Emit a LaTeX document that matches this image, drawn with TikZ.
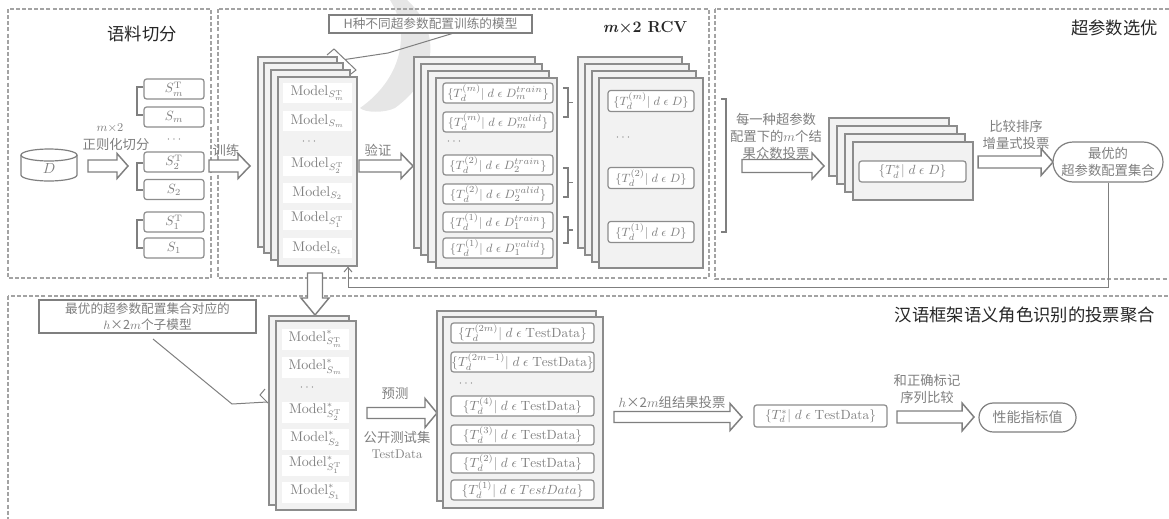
\documentclass[tikz,border=0pt]{standalone}
\usepackage{fontspec}
\newfontfamily\cjk{Noto Sans CJK SC}
\usetikzlibrary{arrows.meta}
\definecolor{txt}{HTML}{7F7F7F}
\definecolor{dark}{HTML}{262626}
\definecolor{edge}{HTML}{8C8C8C}
\definecolor{lay}{HTML}{F2F2F2}
\definecolor{dsh}{HTML}{A3A3A3}
\definecolor{wm}{HTML}{E6E6E6}
\def\pxu{0.75pt}
\newcommand\barr[6]{\draw[barrow] (#1,#3-#4) -- (#2-#6,#3-#4) -- (#2-#6,#3-#5) -- (#2,#3) -- (#2-#6,#3+#5) -- (#2-#6,#3+#4) -- (#1,#3+#4) -- cycle;}
\newcommand\lay[5]{\node[layer, minimum width={(#4-#2)*\pxu}, minimum height={(#5-#3)*\pxu}] (#1) at ({(#2+#4)/2},{(#3+#5)/2}) {};}
\newcommand\Tset[2]{$\{T_d^{(#1)}|\;d\;\epsilon\;#2\}$}
\tikzset{
 frame/.style={draw=dsh, line width=1.1pt, dash pattern=on 3pt off 1.6pt},
 layer/.style={draw=edge, fill=lay, line width=0.9pt, inner sep=0pt},
 sbox/.style={draw=edge, fill=white, rounded corners=2pt, line width=0.9pt, inner sep=0pt, text=txt, font=\fontsize{10}{12}\selectfont},
 tbox/.style={sbox, font=\fontsize{9.5}{11}\selectfont},
 mentry/.style={fill=white, inner sep=0pt, text=txt, font=\fontsize{10.5}{12}\selectfont, minimum width=69*\pxu, minimum height=20*\pxu},
 lbl/.style={text=txt, font=\cjk\fontsize{10}{12.8}\selectfont, align=center, inner sep=0pt},
 title/.style={text=dark, font=\cjk\fontsize{13}{15}\selectfont, inner sep=0pt},
 barrow/.style={draw=txt, fill=white, line width=1.1pt, line join=miter},
 thinl/.style={draw=txt, line width=0.75pt},
 brk/.style={draw=txt, line width=0.9pt},
 dots/.style={text=txt, inner sep=0pt, font=\fontsize{9}{10}\selectfont},
 callout/.style={draw=txt, fill=white, line width=0.9pt, text=txt, font=\cjk\fontsize{9.5}{11.5}\selectfont, align=center, inner sep=0pt},
}
\begin{document}
\begin{tikzpicture}[x=0.75pt,y=-0.75pt]
\useasboundingbox (0,0) rectangle (1169,518);
% watermark swoosh
\fill[wm] (390,0) -- (407,0) .. controls (440,30) and (440,75) .. (395,108)
  .. controls (385,113) and (365,113) .. (360,108) .. controls (400,80) and (412,35) .. (390,0) -- cycle;
% frames
\draw[frame] (8,9) rectangle (211,278);
\draw[frame] (218,9) rectangle (709,278);
\draw[frame] (715,9) rectangle (1175,279);
\draw[frame] (8,296) rectangle (1175,540);
% titles
\node[title] (t1) at (142,34) {语料切分};
\node[text=dark, font=\fontsize{12}{14}\selectfont\bfseries, inner sep=0pt] (t2) at (645,27) {\textit{m}×2 RCV};
\node[title, anchor=east] (t3) at (1158,28) {超参数选优};
\node[title, anchor=east] (t4) at (1155,315) {汉语框架语义角色识别的投票聚合};

% ---------- section 1 ----------
\draw[brk, fill=white] (21,155) -- (21,175) arc[start angle=180, end angle=360, x radius=21pt, y radius=4.5pt] -- (77,155);
\draw[brk] (49,155) ellipse [x radius=21pt, y radius=4.5pt];
\node[text=txt, font=\fontsize{11}{13}\selectfont, inner sep=0pt] (D) at (49,169) {$D$};
\barr{88}{128}{166}{6}{12.5}{11}
\node[text=txt, font=\fontsize{9}{11}\selectfont, inner sep=0pt] (mx) at (110,128) {$m$×2};
\node[lbl] (split) at (116,144) {正则化切分};
\foreach \n/\y/\t in {s6/89/{S_m^{\mathrm{T}}}, s5/117/{S_m}, s4/162/{S_2^{\mathrm{T}}}, s3/189.5/{S_2}, s2/222/{S_1^{\mathrm{T}}}, s1/248/{S_1}}
  \node[sbox, minimum width=60*\pxu, minimum height=20*\pxu] (\n) at (174,\y) {$\t$};
\node[dots] (sd) at (174,140) {$\cdots$};
\foreach \a/\b in {87/115, 163/190, 220/248}
  \draw[brk] (143,\a) -- (137,\a) -- (137,\b) -- (143,\b);

% ---------- section 2 ----------
\barr{209}{250}{166}{6}{12.5}{12}
\node[lbl] (train) at (226,150) {训练};
\lay{ma}{258}{57}{337}{247}
\lay{mb}{264}{63}{343}{253}
\lay{mc}{271}{70}{350}{260}
\lay{mstack}{278}{77}{357}{266}
\foreach \n/\y/\t in {m6/93/{S_m^{\mathrm{T}}}, m5/121/{S_m}, m4/166/{S_2^{\mathrm{T}}}, m3/193/{S_2}, m2/220/{S_1^{\mathrm{T}}}, m1/248/{S_1}}
  \node[mentry] (\n) at (317.5,\y) {$\mathrm{Model}_{\t}$};
\node[dots] (md) at (309,142) {$\cdots$};
% callout top
\node[callout, minimum width=203*\pxu, minimum height=18*\pxu] (hbox) at (430.5,24) {H种不同超参数配置训练的模型};
\draw[thinl] (327,55) -- (334,49) -- (356,70) -- (351,74);
\coordinate (hc) at (345,59.5);
\draw[thinl] (hc) -- (388,53) -- (hbox.south -| 452,0);
% verify arrow
\barr{359}{413}{166}{6}{12.5}{12}
\node[lbl] (verify) at (378,150) {验证};
% T stack
\lay{ta}{414}{57}{535}{248}
\lay{tb}{421}{64}{542}{255}
\lay{tc}{428}{71}{549}{262}
\lay{tstack}{436}{78}{557}{268}
\foreach \n/\y/\k/\s in {e6/93/m/{D_m^{train}}, e5/122/m/{D_m^{valid}}, e4/165/2/{D_2^{train}}, e3/194/2/{D_2^{valid}}, e2/222/1/{D_1^{train}}, e1/248/1/{D_1^{valid}}}
  \node[tbox, minimum width=110*\pxu, minimum height=20*\pxu] (\n) at (498,\y) {\Tset{\k}{\s}};
\node[dots] (td) at (454,142) {$\cdots$};
\foreach \a/\b in {88/117, 168/197, 217/243}{
  \draw[brk] (563,\a) -- (568,\a) -- (568,\b) -- (563,\b);
  \draw[brk] (568,{(\a+\b)/2}) -- (573,{(\a+\b)/2});}
% Td stack
\lay{ua}{578}{57}{682}{248}
\lay{ub}{585}{64}{689}{255}
\lay{uc}{592}{71}{696}{262}
\lay{ustack}{599}{78}{703}{268}
\foreach \n/\y/\k in {f3/101/m, f2/178/2, f1/232/1}
  \node[tbox, minimum width=86*\pxu, minimum height=21*\pxu] (\n) at (651,\y) {\Tset{\k}{D}};
\node[dots] (ud) at (623,138) {$\cdots$};

% ---------- section 3 ----------
\draw[brk] (721,99) -- (726,99) -- (726,232) -- (721,232);
\barr{742}{824}{166}{6.5}{13}{12}
\node[lbl] (vote) at (776,136) {每一种超参数\\配置下的$m$个结\\果众数投票};
\lay{va}{829}{118}{949}{176}
\lay{vb}{837}{126}{957}{184}
\lay{vc}{845}{134}{965}{192}
\lay{vstack}{853}{142}{973}{200}
\node[sbox, minimum width=107*\pxu, minimum height=21*\pxu] (vbest) at (912.5,171.5) {$\{T_d^{*}|\;d\;\epsilon\;D\}$};
\barr{978}{1053}{162}{6}{13.5}{12}
\node[lbl] (cmp) at (1016,134.5) {比较排序\\增量式投票};
\node[draw=txt, line width=0.9pt, fill=white, rounded corners=15pt, minimum width=110*\pxu, minimum height=40*\pxu, text=txt, font=\cjk\fontsize{10}{13}\selectfont, align=center, inner sep=0pt] (best) at (1108,162) {最优的\\超参数配置集合};
\coordinate (fbc) at (348,287);
\draw[thinl, -{Straight Barb[length=3.5pt,width=6pt]}] (best.south) |- (fbc) -- (fbc |- mstack.south);

% ---------- section 4 ----------
\draw[barrow] (307.5,273) -- (307.5,298) -- (301,298) -- (315,315) -- (329,298) -- (322.5,298) -- (322.5,273) -- cycle;
\node[callout, minimum width=217*\pxu, minimum height=33*\pxu] (cbox) at (147.5,316.5) {最优的超参数配置集合对应的\\$h$×2$m$个子模型};
\draw[thinl] (265,389) -- (260,395) -- (274,409) -- (279,404);
\coordinate (cc) at (267,402);
\draw[thinl] (153,339) -- (232,404) -- (cc);
\lay{na}{269}{316}{349}{505}
\lay{nstack}{276}{321}{356}{510}
\foreach \n/\y/\t in {n6/339/{S_m^{\mathrm{T}}}, n5/367/{S_m}, n4/412/{S_2^{\mathrm{T}}}, n3/439/{S_2}, n2/465/{S_1^{\mathrm{T}}}, n1/492/{S_1}}
  \node[mentry, minimum width=67*\pxu, minimum height=21*\pxu] (\n) at (315.5,\y) {$\mathrm{Model}^{*}_{\t}$};
\node[dots] (nd) at (307,388) {$\cdots$};
\barr{367}{437}{413}{5.5}{14.5}{12}
\node[lbl] (pred) at (395,393) {预测};
\node[lbl] (pub) at (397,437) {公开测试集};
\node[text=txt, font=\fontsize{9.5}{11}\selectfont, inner sep=0pt] (tdl) at (397,454) {TestData};
\lay{pa}{437}{311}{596}{501}
\lay{pstack}{443}{317}{603}{508}
\foreach \n/\y/\k in {g6/333/2m, g5/362/2m-1, g4/406/4, g3/435/3, g2/463/2}
  \node[sbox, minimum width=143*\pxu, minimum height=20*\pxu] (\n) at (522.5,\y) {\Tset{\k}{\mathrm{TestData}}};
\node[sbox, minimum width=143*\pxu, minimum height=20*\pxu] (g1) at (522.5,490) {\Tset{1}{TestData}};
\node[dots] (pd) at (466,384) {$\cdots$};
\barr{614}{742}{417}{5.5}{13.5}{12}
\node[lbl] (hvote) at (672,402) {$h$×2$m$组结果投票};
\node[sbox, minimum width=133*\pxu, minimum height=22*\pxu] (res) at (820.5,416) {$\{T_d^{*}|\;d\;\epsilon\;\mathrm{TestData}\}$};
\barr{897}{974}{417}{6}{14}{12}
\node[lbl] (cmp2) at (927,388.5) {和正确标记\\序列比较};
\node[draw=txt, line width=0.9pt, fill=white, rounded corners=10.8pt, minimum width=97*\pxu, minimum height=29*\pxu, text=txt, font=\cjk\fontsize{10.5}{13}\selectfont, inner sep=0pt] (perf) at (1027.5,417.5) {性能指标值};
\end{tikzpicture}
\end{document}
